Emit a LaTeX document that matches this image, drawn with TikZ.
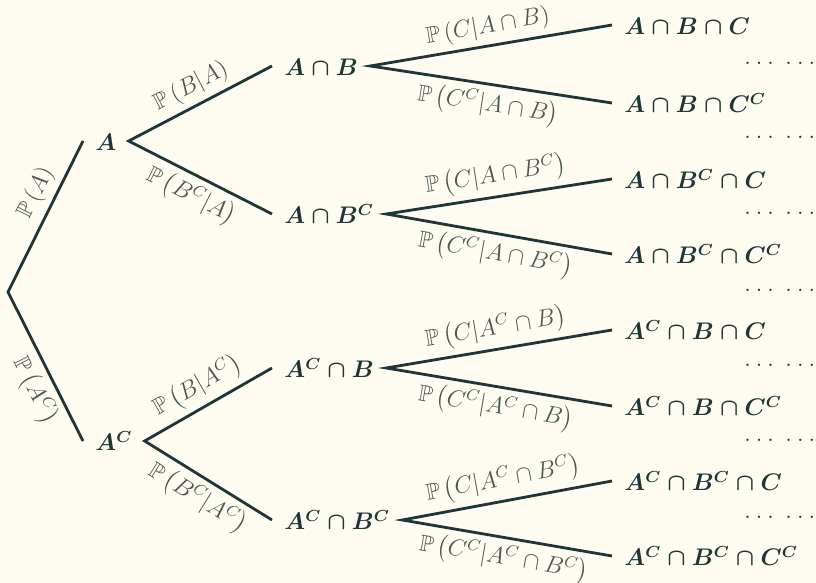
\documentclass[tikz,border=0pt]{standalone}
\usepackage{amsmath,amssymb}
\definecolor{bg}{HTML}{FEFCF1}
\definecolor{ink}{HTML}{1E3638}
\definecolor{labc}{HTML}{4A5757}
\newcommand{\tdots}{.\kern2.5pt.\kern2.5pt.\kern5.75pt.\kern2.5pt.\kern2.5pt.}
\begin{document}
\begin{tikzpicture}[x=0.5pt,y=-0.5pt,
  ev/.style={anchor=west, inner xsep=6pt, inner ysep=0pt, text height=10pt, text depth=0pt, text=ink, font=\fontsize{12}{14}\selectfont},
  br/.style={draw=ink, line width=1.4pt},
  lab/.style={sloped, text=labc, font=\fontsize{11.5}{13}\selectfont},
  dts/.style={anchor=base east, inner sep=0pt, text=ink, font=\fontsize{12}{14}\selectfont}]
\useasboundingbox (0,0) rectangle (816,583);
\fill[bg] (0,0) rectangle (816,583);

\coordinate (r) at (8,292);
\node[ev] (A) at (83,141) {$\boldsymbol{A}$};
\node[ev] (Ac) at (83,441) {$\boldsymbol{A^C}$};
\node[ev] (AB) at (272,66) {$\boldsymbol{A\cap B}$};
\node[ev] (ABc) at (272,214) {$\boldsymbol{A\cap B^C}$};
\node[ev] (AcB) at (272,368) {$\boldsymbol{A^C\cap B}$};
\node[ev] (AcBc) at (272,520) {$\boldsymbol{A^C\cap B^C}$};

\node[ev] (L1) at (612,25) {$\boldsymbol{A\cap B\cap C}$};
\node[ev] (L2) at (612,103) {$\boldsymbol{A\cap B\cap C^C}$};
\node[ev] (L3) at (612,179) {$\boldsymbol{A\cap B^C\cap C}$};
\node[ev] (L4) at (612,254) {$\boldsymbol{A\cap B^C\cap C^C}$};
\node[ev] (L5) at (612,330) {$\boldsymbol{A^C\cap B\cap C}$};
\node[ev] (L6) at (612,406) {$\boldsymbol{A^C\cap B\cap C^C}$};
\node[ev] (L7) at (612,481) {$\boldsymbol{A^C\cap B^C\cap C}$};
\node[ev] (L8) at (612,556) {$\boldsymbol{A^C\cap B^C\cap C^C}$};

\foreach \y/\n in {64.3/d1,138.3/d2,214.3/d3,291.3/d4,366.3/d5,441.3/d6,518.3/d7}
  \node[dts] (\n) at (815.5,\y) {\tdots};

% level 1
\draw[br] (A.west) -- (r) -- (Ac.west);
\path (r) -- node[lab,above,pos=0.6]{$\mathbb{P}\left(A\right)$} (A.west);
\path (r) -- node[lab,below,pos=0.6]{$\mathbb{P}\left(A^C\right)$} (Ac.west);

% level 2
\draw[br] (AB.west) -- (A.east) -- (ABc.west);
\path (A.east) -- node[lab,above]{$\mathbb{P}\left(B|A\right)$} (AB.west);
\path (A.east) -- node[lab,below]{$\mathbb{P}\left(B^C|A\right)$} (ABc.west);
\draw[br] (AcB.west) -- (Ac.east) -- (AcBc.west);
\path (Ac.east) -- node[lab,above]{$\mathbb{P}\left(B|A^C\right)$} (AcB.west);
\path (Ac.east) -- node[lab,below]{$\mathbb{P}\left(B^C|A^C\right)$} (AcBc.west);

% level 3
\draw[br] (L1.west) -- (AB.east) -- (L2.west);
\path (AB.east) -- node[lab,above]{$\mathbb{P}\left(C|A\cap B\right)$} (L1.west);
\path (AB.east) -- node[lab,below]{$\mathbb{P}\left(C^C|A\cap B\right)$} (L2.west);
\draw[br] (L3.west) -- (ABc.east) -- (L4.west);
\path (ABc.east) -- node[lab,above]{$\mathbb{P}\left(C|A\cap B^C\right)$} (L3.west);
\path (ABc.east) -- node[lab,below]{$\mathbb{P}\left(C^C|A\cap B^C\right)$} (L4.west);
\draw[br] (L5.west) -- (AcB.east) -- (L6.west);
\path (AcB.east) -- node[lab,above]{$\mathbb{P}\left(C|A^C\cap B\right)$} (L5.west);
\path (AcB.east) -- node[lab,below]{$\mathbb{P}\left(C^C|A^C\cap B\right)$} (L6.west);
\draw[br] (L7.west) -- (AcBc.east) -- (L8.west);
\path (AcBc.east) -- node[lab,above]{$\mathbb{P}\left(C|A^C\cap B^C\right)$} (L7.west);
\path (AcBc.east) -- node[lab,below]{$\mathbb{P}\left(C^C|A^C\cap B^C\right)$} (L8.west);
\end{tikzpicture}
\end{document}
